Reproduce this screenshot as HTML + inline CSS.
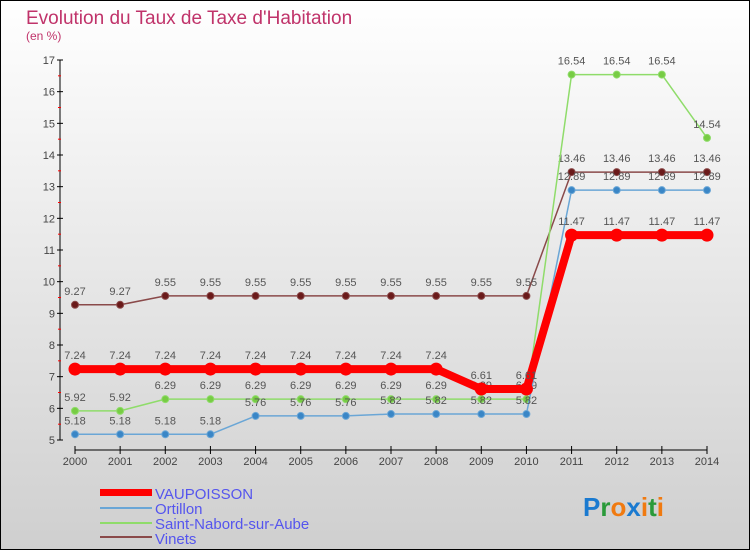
<!DOCTYPE html>
<html><head><meta charset="utf-8"><style>
body{margin:0;}
svg{display:block;font-family:"Liberation Sans",sans-serif;}
</style></head><body>
<svg id="chart" width="750" height="550">
<defs><linearGradient id="bg" x1="0" y1="0" x2="0" y2="1"><stop offset="0" stop-color="#ffffff"/><stop offset="1" stop-color="#cfcfcf"/></linearGradient></defs>
<rect x="0.5" y="0.5" width="749" height="549" fill="url(#bg)" stroke="#000"/>
<text x="26" y="24" font-size="19" fill="#c0336a">Evolution du Taux de Taxe d'Habitation</text>
<text x="26" y="40" font-size="12" fill="#c0336a">(en %)</text>
<g id="axes"></g><g id="series"></g>
<g>
<rect x="100" y="489" width="52" height="7" fill="#ff0000"/>
<text x="155" y="499" font-size="15" fill="#5555ee">VAUPOISSON</text>
<rect x="100" y="507" width="52" height="2" fill="#6aa6d6"/>
<text x="155" y="514" font-size="15" fill="#5555ee">Ortillon</text>
<rect x="100" y="522" width="52" height="2" fill="#8fdc6a"/>
<text x="155" y="529" font-size="15" fill="#5555ee">Saint-Nabord-sur-Aube</text>
<rect x="100" y="536" width="52" height="2" fill="#8a4a4a"/>
<text x="155" y="544" font-size="15" fill="#5555ee">Vinets</text>
</g>
<g font-size="26" font-weight="bold">
<text x="583" y="516"><tspan fill="#1a7ad0">P</tspan><tspan fill="#2a9a3a">r</tspan><tspan fill="#f07a10">o</tspan><tspan fill="#1a7ad0">x</tspan><tspan fill="#f07a10">i</tspan><tspan fill="#2a9a3a">t</tspan><tspan fill="#f07a10">i</tspan></text>
</g>
</svg>
<script>
const years=[2000,2001,2002,2003,2004,2005,2006,2007,2008,2009,2010,2011,2012,2013,2014];
const yTicks=[5,6,7,8,9,10,11,12,13,14,15,16,17];
const vaupoisson=[7.24,7.24,7.24,7.24,7.24,7.24,7.24,7.24,7.24,6.61,6.61,11.47,11.47,11.47,11.47];
const ortillon=[5.18,5.18,5.18,5.18,5.76,5.76,5.76,5.82,5.82,5.82,5.82,12.89,12.89,12.89,12.89];
const saintNabord=[5.92,5.92,6.29,6.29,6.29,6.29,6.29,6.29,6.29,6.29,6.29,16.54,16.54,16.54,14.54];
const vinets=[9.27,9.27,9.55,9.55,9.55,9.55,9.55,9.55,9.55,9.55,9.55,13.46,13.46,13.46,13.46];
const NS="http://www.w3.org/2000/svg";
const X=i=>75+i*(707-75)/(years.length-1);
const Y=v=>440-(v-5)*(380/12);
function mk(t,a,p){const e=document.createElementNS(NS,t);for(const k in a)e.setAttribute(k,a[k]);p.appendChild(e);return e;}
const ax=document.getElementById('axes');
let l=mk('line',{x1:60,y1:Y(17),x2:60,y2:Y(5),stroke:'#000','stroke-width':1},ax);


l=mk('line',{x1:75,y1:450,x2:707,y2:450,stroke:'#000','stroke-width':1},ax);


yTicks.forEach((v,i)=>{
 mk('line',{x1:57,y1:Y(v),x2:63,y2:Y(v),stroke:'#000'},ax);
 if(i<yTicks.length-1) mk('line',{x1:58,y1:Y(v+0.5),x2:61,y2:Y(v+0.5),stroke:'#f00'},ax);
 const t=mk('text',{x:55,y:Y(v)+4,'font-size':11,fill:'#444','text-anchor':'end'},ax);t.textContent=v;
 
 
});
years.forEach((yr,i)=>{
 mk('line',{x1:X(i),y1:446,x2:X(i),y2:454,stroke:'#000'},ax);
 const t=mk('text',{x:X(i),y:465,'font-size':11,fill:'#444','text-anchor':'middle'},ax);t.textContent=yr;
 
 
});
const sg=document.getElementById('series');
function draw(data,name,color,width,dot,r){
 const g=mk('g',{},sg);
 
 
 mk('polyline',{points:data.map((v,i)=>X(i)+','+Y(v)).join(' '),fill:'none',stroke:color,'stroke-width':width,'stroke-linejoin':'round'},g);
 data.forEach((v,i)=>{
  const c=mk('circle',{cx:X(i),cy:Y(v),r:r,fill:dot,stroke:color,'stroke-width':1},g);
  
  
  const t=mk('text',{x:X(i),y:Y(v)-10,'font-size':11,fill:'#555','text-anchor':'middle'},g);t.textContent=v;
  
  
 });
}
draw(vinets,'vinets','#8a4a4a',1.5,'#6a1a1a',3.5);
draw(saintNabord,'saint-nabord','#8fdc6a',1.5,'#77cc44',3.5);
draw(ortillon,'ortillon','#6aa6d6',1.5,'#3a86c6',3.5);
draw(vaupoisson,'vaupoisson','#ff0000',8,'#ff0000',6);
</script>
</body></html>
